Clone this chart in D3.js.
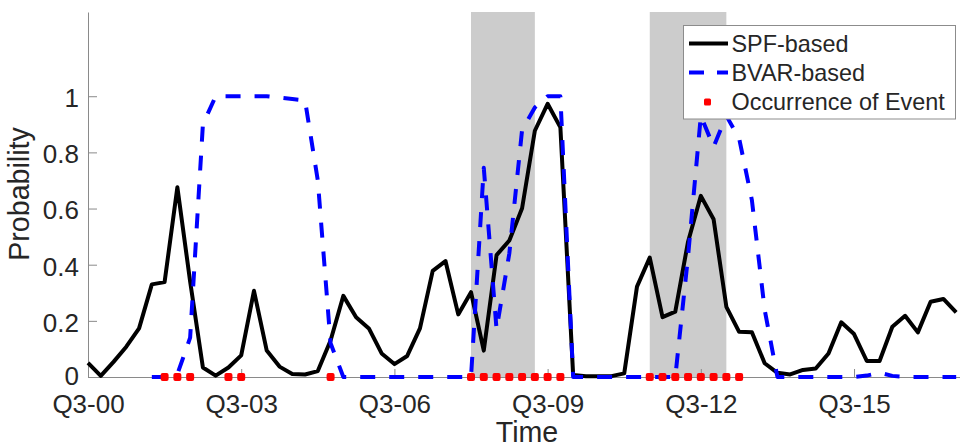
<!DOCTYPE html>
<html>
<head>
<meta charset="utf-8">
<script src="https://cdn.jsdelivr.net/npm/d3@7"></script>
<style>
  html, body { margin: 0; padding: 0; background: #fff; }
  svg { display: block; }
  text { font-family: "Liberation Sans", Arial, Helvetica, sans-serif; fill: #262626; }
</style>
</head>
<body>
<svg id="chart" width="960" height="446"></svg>
<script>
// Quarterly probabilities, index 0 = Q3-2000
const spfProb = [
  0.05, 0.004, 0.054, 0.108, 0.173, 0.33, 0.338, 0.676, 0.34, 0.034,
  0.005, 0.034, 0.077, 0.307, 0.094, 0.037, 0.011, 0.009, 0.021, 0.13,
  0.289, 0.213, 0.173, 0.084, 0.046, 0.075, 0.173, 0.378, 0.413, 0.223,
  0.302, 0.094, 0.434, 0.486, 0.601, 0.877, 0.973, 0.889, 0.007, 0.003,
  0.003, 0.003, 0.013, 0.322, 0.425, 0.213, 0.233, 0.482, 0.645, 0.562,
  0.25, 0.161, 0.159, 0.049, 0.015, 0.009, 0.025, 0.03, 0.084, 0.195,
  0.153, 0.057, 0.057, 0.179, 0.218, 0.159, 0.268, 0.278, 0.23
];
const bvarProb = [
  null, null, null, null, null, 0, 0, 0.01, 0.14, 0.9,
  1.0, 1.0, 1.0, 1.0, 1.0, 0.995, 0.99, 0.985, 0.70, 0.12,
  0, 0, 0, 0, 0, 0, 0, 0, 0, 0,
  0, 0.745, 0.17, 0.44, 0.88, 0.96, 1.0, 1.0, 0, 0,
  0, 0, 0, 0, 0, 0, 0, 0.43, 0.93, 0.82,
  0.93, 0.85, 0.63, 0.24, 0, 0, 0, 0, 0, 0,
  0, 0.005, 0.015, 0.004, 0, 0, 0, 0, 0
];
// Quarters in which the event occurred
const eventQuarters = [6, 7, 8, 11, 12, 19, 30, 31, 32, 33, 34, 35, 36, 37,
                       44, 45, 46, 47, 48, 49, 50, 51];
// Shaded recession spans [start, end] in quarter index
const recessions = [[30, 35], [44, 50]];

const xTickValues = [0, 12, 24, 36, 48, 60];
const xTickLabels = ["Q3-00", "Q3-03", "Q3-06", "Q3-09", "Q3-12", "Q3-15"];
const yTickValues = [0, 0.2, 0.4, 0.6, 0.8, 1];
const seriesNames = ["SPF-based", "BVAR-based", "Occurrence of Event"];

const svg = d3.select("#chart");
const x = d3.scaleLinear().domain([0, 68.3]).range([88, 960]);
const y = d3.scaleLinear().domain([0, 1.3]).range([377, 12]);

// Recession shading
svg.append("g").selectAll("rect").data(recessions).join("rect")
  .attr("x", d => x(d[0]))
  .attr("width", d => x(d[1]) - x(d[0]))
  .attr("y", y(1.3))
  .attr("height", y(0) - y(1.3))
  .attr("fill", "#cccccc");

// Axes (MATLAB-style inward ticks)
const axisColor = "#8a8a8a";
const gx = svg.append("g").attr("transform", `translate(0,${y(0)})`)
  .call(d3.axisBottom(x).tickValues(xTickValues)
    .tickFormat((d, i) => xTickLabels[i]).tickSizeInner(-8).tickSizeOuter(0));
gx.select(".domain").attr("stroke", axisColor);
gx.selectAll(".tick line").attr("stroke", axisColor);
gx.selectAll(".tick text").attr("y", 36).attr("dy", 0)
  .attr("font-size", 26).attr("fill", "#262626")
  .attr("font-family", "Liberation Sans, Arial, sans-serif");

const gy = svg.append("g").attr("transform", `translate(${x(0)},0)`)
  .call(d3.axisLeft(y).tickValues(yTickValues).tickFormat(d3.format("~g"))
    .tickSizeInner(-9).tickSizeOuter(0));
gy.select(".domain").attr("stroke", axisColor);
gy.selectAll(".tick line").attr("stroke", axisColor);
gy.selectAll(".tick text").attr("x", -9).attr("dy", "0.4em")
  .attr("font-size", 26).attr("fill", "#262626")
  .attr("font-family", "Liberation Sans, Arial, sans-serif");
// keep the zero label clear of the first date label
gy.selectAll(".tick text").filter(d => d === 0).attr("dy", "0.27em");

// Axis titles
svg.append("text").attr("x", 527).attr("y", 441.5)
  .attr("text-anchor", "middle").attr("font-size", 28.6).text("Time");
svg.append("text").attr("transform", "translate(28.5,194) rotate(-90)")
  .attr("text-anchor", "middle").attr("font-size", 28.6).text("Probability");

// Series
const line = d3.line()
  .defined(d => d != null)
  .x((d, i) => x(i))
  .y(d => y(d));

svg.append("path").datum(spfProb)
  .attr("d", line)
  .attr("fill", "none").attr("stroke", "#000").attr("stroke-width", 4)
  .attr("stroke-linejoin", "round");

svg.append("path").datum(bvarProb)
  .attr("d", line)
  .attr("fill", "none").attr("stroke", "#0000ff").attr("stroke-width", 4)
  .attr("stroke-dasharray", "15,14").attr("stroke-linejoin", "round");

svg.append("g").selectAll("rect").data(eventQuarters).join("rect")
  .attr("x", d => x(d) - 4).attr("y", y(0) - 4)
  .attr("width", 8).attr("height", 8).attr("rx", 2)
  .attr("fill", "#ff0000");

// Legend
const lg = svg.append("g");
lg.append("rect").attr("x", 683.5).attr("y", 25.5).attr("width", 272).attr("height", 93.5)
  .attr("fill", "#fff").attr("stroke", "#8c8c8c").attr("stroke-width", 1);
const rows = [43.5, 72.5, 102];
lg.append("line").attr("x1", 689).attr("x2", 728).attr("y1", rows[0]).attr("y2", rows[0])
  .attr("stroke", "#000").attr("stroke-width", 4);
lg.append("line").attr("x1", 689).attr("x2", 728).attr("y1", rows[1]).attr("y2", rows[1])
  .attr("stroke", "#0000ff").attr("stroke-width", 4).attr("stroke-dasharray", "15,13");
lg.append("rect").attr("x", 707.5 - 3.5).attr("y", rows[2] - 3.5)
  .attr("width", 7).attr("height", 7).attr("rx", 1.5).attr("fill", "#ff0000");
lg.selectAll("text").data(seriesNames).join("text")
  .attr("x", 731.5).attr("y", (d, i) => rows[i] + 8.3)
  .attr("font-size", 23.4).text(d => d);
</script>
</body>
</html>
